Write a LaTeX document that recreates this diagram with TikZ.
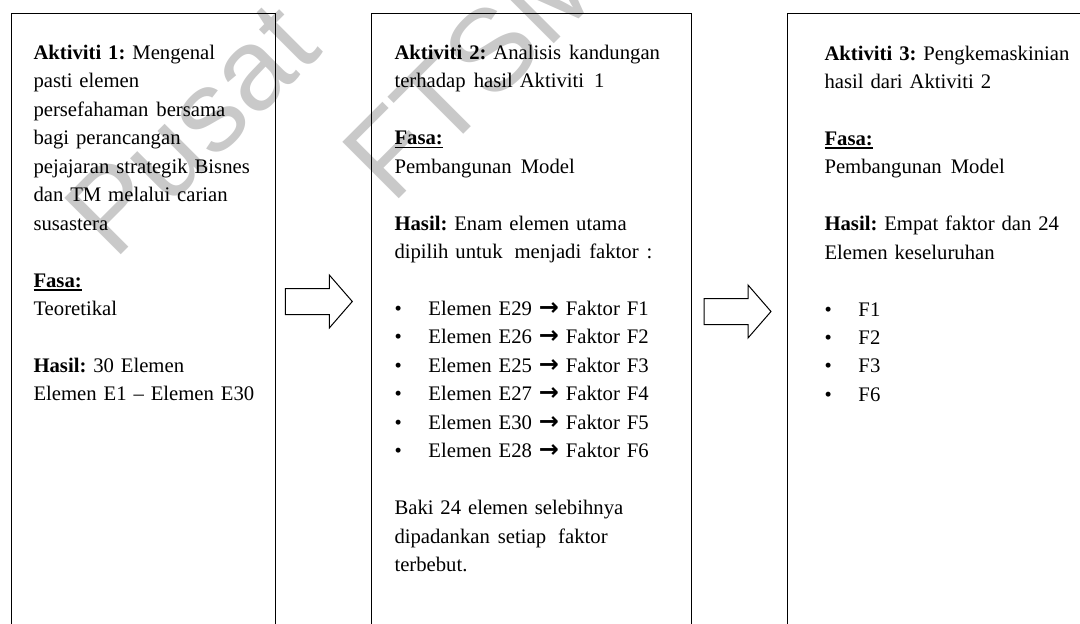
\documentclass[tikz,border=0pt]{standalone}
\usepackage{fontspec}
\setmainfont{Liberation Serif}
\newfontfamily\wmfont{Liberation Sans}
\newfontfamily\symfont{DejaVu Sans}
\newlength\ls
\setlength\ls{28.45pt}
% bullet column, arrow glyph, underlined bold heading
\newcommand\bul{\makebox[34pt][l]{\textbullet}}
\newcommand\arr{{\symfont\bfseries\fontsize{24}{24}\selectfont →}}
\newcommand\fasa{\leavevmode\setbox0\hbox{\textbf{Fasa:}}\rlap{\rule[-3.4pt]{\wd0}{1.4pt}}\box0}
% body font with fixed, unstretched word spaces
\newcommand\colfont{\fontsize{20.7}{28.45}\selectfont\frenchspacing\spaceskip=0.25em\relax}
\begin{document}
\begin{tikzpicture}[x=1pt,y=-1pt,
  box/.style={draw=black, line width=1.3pt, rectangle, anchor=north west, inner sep=0pt, minimum height=700pt},
  txt/.style={anchor=base west, inner sep=0pt, text width=#1, align=left, font=\colfont},
  wm/.style={anchor=base west, inner sep=0pt, rotate=45, text=black!21,
    font=\wmfont\fontsize{116}{116}\selectfont},
  blockarrow/.pic={\draw[line width=1pt, fill=white]
    (0,-13) -- (44,-13) -- (44,-26.5) -- (67,0) -- (44,26.5) -- (44,13) -- (0,13) -- cycle;}]
\useasboundingbox (0,0) rectangle (1080,624);
\clip (0,0) rectangle (1080,624);

% watermark
\node[wm] (wmA) at (114,262) {Pusat};
\node[wm] (wmB) at (392,206) {FTSM};

% three activity columns
\node[box, minimum width=264.5pt] (b1) at (10.5,13) {};
\node[box, minimum width=320pt] (b2) at (371,13) {};
\node[box, minimum width=400pt] (b3) at (786.5,13) {};

% block arrows between the columns
\pic at (285.3,301.5) {blockarrow};
\pic at (704,311.5) {blockarrow};

% column texts
\node[txt=235pt] (t1) at (33.3,59.5) {%
\textbf{Aktiviti 1:} Mengenal\\
pasti elemen\\
persefahaman\hspace{8pt}bersama\\
bagi perancangan\\
pejajaran\hspace{7pt}strategik\hspace{7pt}Bisnes\\
dan TM melalui carian\\
susastera\\[\ls]
\fasa\\
Teoretikal\\[\ls]
\textbf{Hasil:} 30 Elemen\\
Elemen E1 – Elemen E30};

\node[txt=285pt] (t2) at (394.3,59.5) {%
\textbf{Aktiviti 2:} Analisis\hspace{8pt}kandungan\\
terhadap\hspace{8pt}hasil Aktiviti\hspace{10pt}1\\[\ls]
\fasa\\
Pembangunan\hspace{9pt}Model\\[\ls]
\textbf{Hasil:} Enam elemen utama\\
dipilih untuk\hspace{12pt}menjadi\hspace{8pt}faktor\hspace{8pt}:\\[\ls]
\bul Elemen E29 \arr\ Faktor F1\\
\bul Elemen E26 \arr\ Faktor F2\\
\bul Elemen E25 \arr\ Faktor F3\\
\bul Elemen E27 \arr\ Faktor F4\\
\bul Elemen E30 \arr\ Faktor F5\\
\bul Elemen E28 \arr\ Faktor F6\\[\ls]
Baki 24 elemen selebihnya\\
dipadankan\hspace{8pt}setiap\hspace{12pt}faktor\\
terbebut.};

\node[txt=250pt] (t3) at (824.3,60) {%
\textbf{Aktiviti 3:} Pengkemaskinian\\
hasil dari Aktiviti 2\\[\ls]
\fasa\\
Pembangunan\hspace{9pt}Model\\[\ls]
\textbf{Hasil:} Empat faktor dan 24\\
Elemen keseluruhan\\[\ls]
\bul F1\\
\bul F2\\
\bul F3\\
\bul F6};
\end{tikzpicture}
\end{document}
